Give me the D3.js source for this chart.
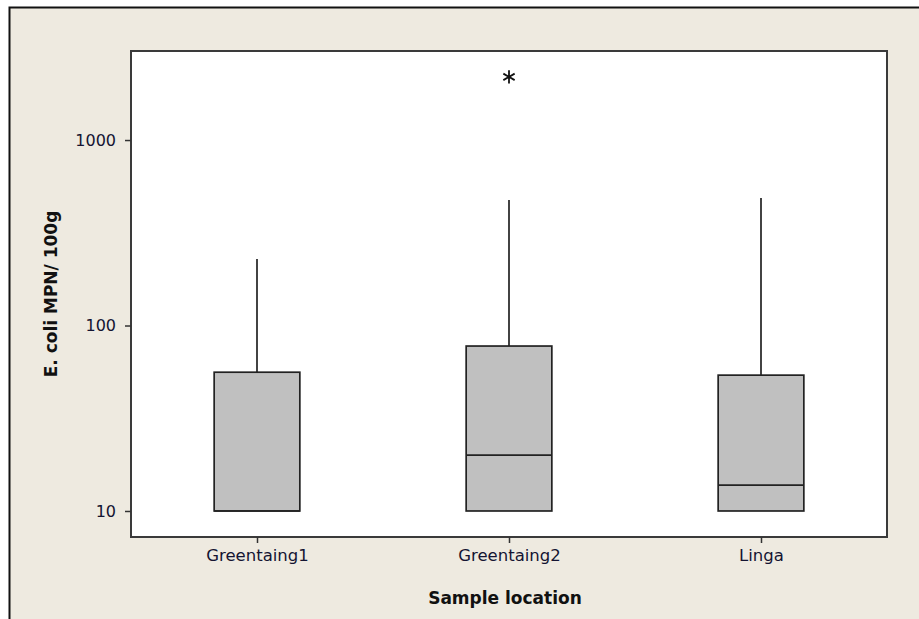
<!DOCTYPE html>
<html>
<head>
<meta charset="utf-8">
<script src="https://cdn.jsdelivr.net/npm/d3@7"></script>
<style>
  html, body { margin: 0; padding: 0; background: #ffffff; }
  svg { display: block; }
</style>
</head>
<body>
<svg id="chart" width="919" height="619"></svg>
<script>
// Boxplot summary of E. coli counts per sample location
const categories = ["Greentaing1", "Greentaing2", "Linga"];
const q1Values = [10, 10, 10];
const medianValues = [10, 20, 13.8];
const q3Values = [56, 77.5, 54];
const whiskerLow = [10, 10, 10];
const whiskerHigh = [228, 475, 487];
const outlierCategories = ["Greentaing2"];
const outlierValues = [2190];
const yTickValues = [10, 100, 1000];

const svg = d3.select("#chart");
const W = 919, H = 619;
const plot = { left: 131, right: 887, top: 51, bottom: 537 };

// outer panel
svg.append("rect")
  .attr("x", 9.5).attr("y", 7.5)
  .attr("width", W + 20).attr("height", H + 20)
  .attr("fill", "#EEEAE0")
  .attr("stroke", "#111").attr("stroke-width", 2);

// data area
svg.append("rect")
  .attr("x", plot.left).attr("y", plot.top)
  .attr("width", plot.right - plot.left).attr("height", plot.bottom - plot.top)
  .attr("fill", "#ffffff");

const x = d3.scalePoint().domain(categories).range([plot.left, plot.right]).padding(0.5);
const y = d3.scaleLog().domain([7.24, 3020]).range([plot.bottom, plot.top]);
const boxW = x.step() * 0.34;

const rows = categories.map((c, i) => ({
  cat: c, q1: q1Values[i], med: medianValues[i], q3: q3Values[i],
  lo: whiskerLow[i], hi: whiskerHigh[i]
}));

const g = svg.append("g");
const stroke = "#222";

// whiskers
g.selectAll(".whisk-hi").data(rows).join("line")
  .attr("x1", d => x(d.cat)).attr("x2", d => x(d.cat))
  .attr("y1", d => y(d.q3)).attr("y2", d => y(d.hi))
  .attr("stroke", stroke).attr("stroke-width", 1.7);
g.selectAll(".whisk-lo").data(rows).join("line")
  .attr("x1", d => x(d.cat)).attr("x2", d => x(d.cat))
  .attr("y1", d => y(d.q1)).attr("y2", d => y(d.lo))
  .attr("stroke", stroke).attr("stroke-width", 1.7);

// boxes
g.selectAll(".box").data(rows).join("rect")
  .attr("x", d => x(d.cat) - boxW / 2)
  .attr("width", boxW)
  .attr("y", d => y(d.q3))
  .attr("height", d => y(d.q1) - y(d.q3))
  .attr("fill", "#C0C0C0")
  .attr("stroke", stroke).attr("stroke-width", 1.7);

// medians
g.selectAll(".median").data(rows).join("line")
  .attr("x1", d => x(d.cat) - boxW / 2).attr("x2", d => x(d.cat) + boxW / 2)
  .attr("y1", d => y(d.med)).attr("y2", d => y(d.med))
  .attr("stroke", stroke).attr("stroke-width", 1.7);

// outliers
const star = d3.symbol().type(d3.symbolAsterisk).size(120);
g.selectAll(".outlier").data(outlierValues.map((v, i) => ({ cat: outlierCategories[i], v })))
  .join("path")
  .attr("d", star)
  .attr("transform", d => `translate(${x(d.cat)},${y(d.v)})`)
  .attr("fill", "none").attr("stroke", "#111").attr("stroke-width", 1.8);

// frame of the data area
svg.append("rect")
  .attr("x", plot.left).attr("y", plot.top)
  .attr("width", plot.right - plot.left).attr("height", plot.bottom - plot.top)
  .attr("fill", "none").attr("stroke", "#3a3a3a").attr("stroke-width", 2);

// axes
const yAxis = d3.axisLeft(y).tickValues(yTickValues).tickFormat(d3.format("d"))
  .tickSize(6).tickPadding(9);
const yg = svg.append("g").attr("transform", `translate(${plot.left},0)`).call(yAxis);
yg.select(".domain").remove();
yg.selectAll("line").attr("stroke", "#333").attr("stroke-width", 1.5);
yg.selectAll("text").attr("font-family", "DejaVu Sans").attr("font-size", 16).attr("fill", "#141432");

const xAxis = d3.axisBottom(x).tickSize(6).tickPadding(6);
const xg = svg.append("g").attr("transform", `translate(0,${plot.bottom})`).call(xAxis);
xg.select(".domain").remove();
xg.selectAll("line").attr("stroke", "#333").attr("stroke-width", 1.5);
xg.selectAll("text").attr("font-family", "DejaVu Sans").attr("font-size", 16.5).attr("fill", "#141432");

// axis titles
svg.append("text")
  .attr("x", (plot.left + plot.right) / 2 - 4).attr("y", 604)
  .attr("text-anchor", "middle")
  .attr("font-family", "DejaVu Sans").attr("font-weight", "bold").attr("font-size", 17)
  .attr("fill", "#111")
  .text("Sample location");

svg.append("text")
  .attr("transform", `translate(57,${(plot.top + plot.bottom) / 2}) rotate(-90)`)
  .attr("text-anchor", "middle")
  .attr("font-family", "DejaVu Sans").attr("font-weight", "bold").attr("font-size", 17)
  .attr("fill", "#111")
  .text("E. coli MPN/ 100g");
</script>
</body>
</html>
